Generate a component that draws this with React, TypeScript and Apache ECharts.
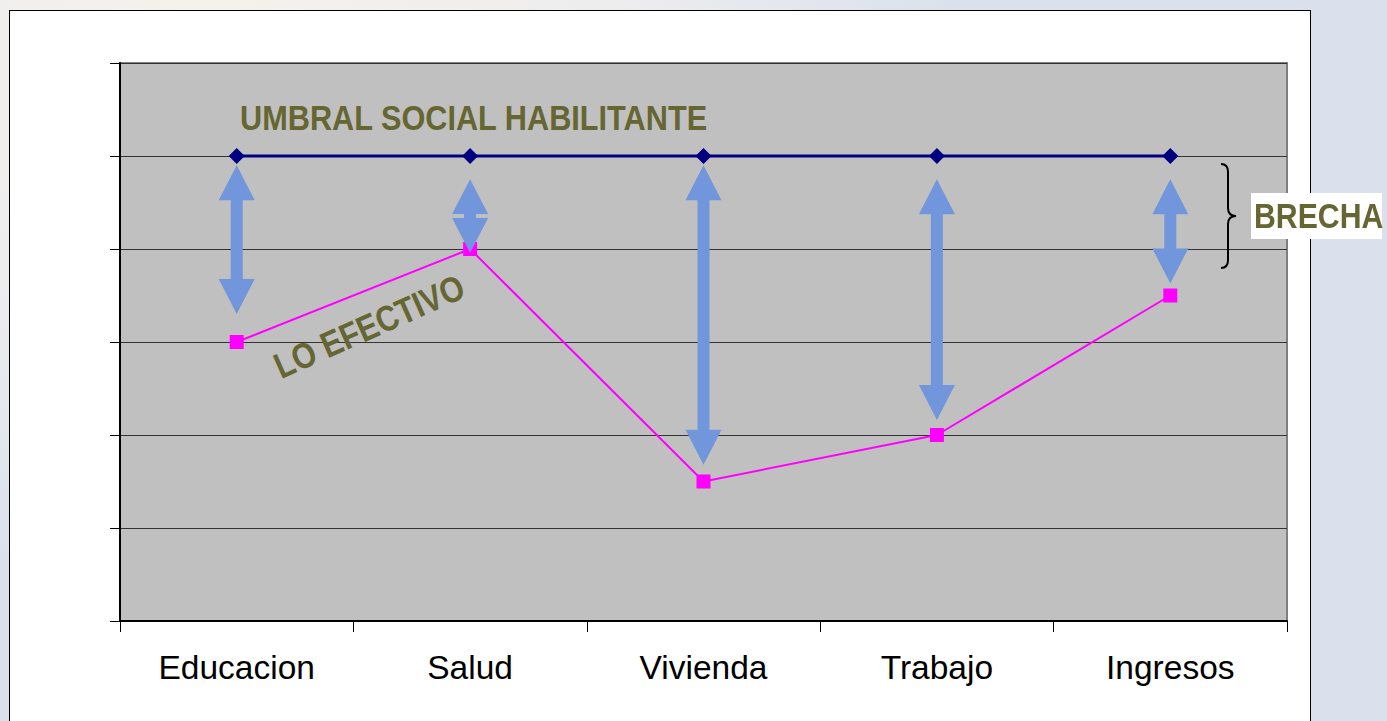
import React, { useEffect, useRef } from 'react';
import * as echarts from 'echarts';

const categories = ['Educacion', 'Salud', 'Vivienda', 'Trabajo', 'Ingresos'];
const umbral = [5, 5, 5, 5, 5];
const efectivo = [3, 4, 1.5, 2, 3.5];
const arrowTop = [4.9, 4.75, 4.9, 4.75, 4.75];
const arrowBottom = [3.3, 3.96, 1.68, 2.16, 3.63];
const yMin = 0;
const yMax = 6;

const OLIVE = '#666633';
const FONT = '"Liberation Sans", Arial, sans-serif';

const Brace = echarts.graphic.extendPath(
  'M1221,164 Q1228,164 1228,172 L1228,208 Q1228,216 1236,216 Q1228,216 1228,224 L1228,260 Q1228,268 1221,268',
  {}
);
echarts.graphic.registerShape('brace', Brace);

export default function App() {
  const ref = useRef<HTMLDivElement>(null);
  useEffect(() => {
    if (!ref.current) return;
    const chart = echarts.init(ref.current, null, { renderer: 'svg' });
    chart.setOption({
      animation: false,
      grid: {
        left: 120,
        top: 63,
        width: 1167,
        height: 558,
        show: true,
        backgroundColor: '#C0C0C0',
        borderColor: '#808080',
        borderWidth: 2,
      },
      xAxis: {
        type: 'category',
        data: categories,
        boundaryGap: true,
        axisLine: { show: true, lineStyle: { color: '#000', width: 2 } },
        axisTick: { show: true, length: 11, lineStyle: { color: '#000', width: 1 } },
        axisLabel: { color: '#000', fontSize: 33.5, fontFamily: FONT, margin: 29 },
        splitLine: { show: false },
      },
      yAxis: {
        type: 'value',
        min: yMin,
        max: yMax,
        interval: 1,
        axisLine: { show: true, lineStyle: { color: '#000', width: 2 } },
        axisTick: { show: true, length: 10, lineStyle: { color: '#000', width: 1 } },
        axisLabel: { show: false },
        splitLine: { show: true, lineStyle: { color: '#333', width: 1 } },
      },
      series: [
        {
          name: 'Lo efectivo',
          type: 'line',
          data: efectivo,
          symbol: 'rect',
          symbolSize: 14,
          lineStyle: { color: '#FF00FF', width: 2 },
          itemStyle: { color: '#FF00FF' },
          z: 3,
        },
        {
          name: 'Umbral',
          type: 'line',
          data: umbral,
          symbol: 'diamond',
          symbolSize: 16,
          lineStyle: { color: '#000080', width: 3 },
          itemStyle: { color: '#000080' },
          z: 4,
        },
        {
          name: 'Brecha',
          type: 'custom',
          data: categories.map((_, i) => [i, arrowTop[i], arrowBottom[i]]),
          encode: { x: 0, y: [1, 2] },
          z: 5,
          renderItem: (params: any, api: any) => {
            const t = api.coord([api.value(0), api.value(1)]);
            const b = api.coord([api.value(0), api.value(2)]);
            const cx = t[0];
            const yt = t[1];
            const yb = b[1];
            const hl = Math.min(35, (yb - yt) / 2 - 2);
            const hw = 18;
            const sw = 6;
            return {
              type: 'polygon',
              shape: {
                points: [
                  [cx, yt],
                  [cx + hw, yt + hl],
                  [cx + sw, yt + hl],
                  [cx + sw, yb - hl],
                  [cx + hw, yb - hl],
                  [cx, yb],
                  [cx - hw, yb - hl],
                  [cx - sw, yb - hl],
                  [cx - sw, yt + hl],
                  [cx - hw, yt + hl],
                ],
              },
              style: { fill: '#7196DC' },
            };
          },
        },
      ],
      graphic: [
        {
          type: 'text',
          x: 240,
          y: 118,
          scaleX: 0.853,
          z: 10,
          style: {
            text: 'UMBRAL SOCIAL HABILITANTE',
            fill: OLIVE,
            font: `bold 36px ${FONT}`,
            align: 'left',
            verticalAlign: 'middle',
          },
        },
        {
          type: 'text',
          x: 276,
          y: 368,
          scaleX: 0.85,
          rotation: (24 * Math.PI) / 180,
          z: 10,
          style: {
            text: 'LO EFECTIVO',
            fill: OLIVE,
            font: `bold 36px ${FONT}`,
            align: 'left',
            verticalAlign: 'middle',
          },
        },
        {
          type: 'rect',
          z: 10,
          shape: { x: 1251, y: 193, width: 131, height: 46 },
          style: { fill: '#FFFFFF' },
        },
        {
          type: 'text',
          x: 1254,
          y: 216,
          scaleX: 0.84,
          z: 11,
          style: {
            text: 'BRECHA',
            fill: OLIVE,
            font: `bold 36px ${FONT}`,
            align: 'left',
            verticalAlign: 'middle',
          },
        },
        {
          type: 'brace',
          z: 10,
          style: { stroke: '#000', fill: null, lineWidth: 2 },
        },
      ],
    });
    return () => chart.dispose();
  }, []);

  return (
    <div
      style={{
        position: 'fixed',
        left: 0,
        top: 0,
        width: 1387,
        height: 721,
        overflow: 'hidden',
        background:
          'radial-gradient(ellipse 900px 700px at 15% 0%, #F4F2EC 0%, #EEEDEE 45%, #DAE0EC 85%)',
      }}
    >
      <div
        style={{
          position: 'absolute',
          left: 9,
          top: 10,
          width: 1300,
          height: 740,
          background: '#FFFFFF',
          border: '1.5px solid #000',
        }}
      />
      <div ref={ref} style={{ position: 'absolute', left: 0, top: 0, width: 1387, height: 721 }} />
    </div>
  );
}
